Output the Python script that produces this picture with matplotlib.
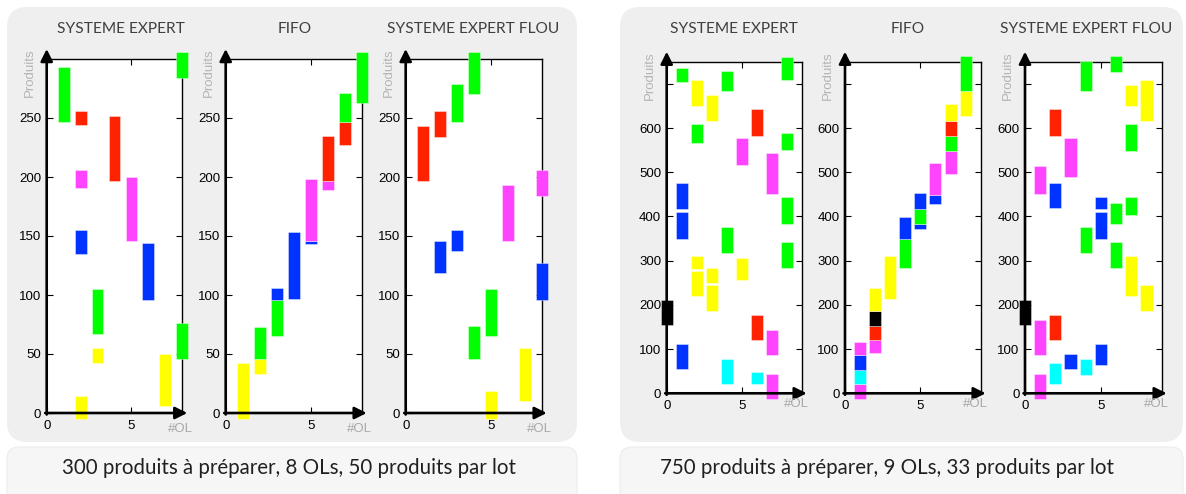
import matplotlib
matplotlib.use("Agg")
import matplotlib.pyplot as plt
from matplotlib.patches import FancyBboxPatch

# ---------------- data ----------------
G, R, P, B, Y, C, K = "#00ff00", "#ff2200", "#ff44ff", "#0033ff", "#ffff00", "#00ffff", "#000000"

# 300 produits, 8 OLs, 50 produits par lot
se300_ol  = [1, 2, 2, 2, 2, 3, 3, 4, 5, 6, 7, 8, 8]
se300_lo  = [247, 244, 191, 135, -5, 67, 42, 197, 146, 96, 6, 284, 46]
se300_hi  = [293, 256, 206, 155, 14, 105, 55, 252, 200, 144, 50, 306, 76]
se300_col = [G, R, P, B, Y, G, Y, R, P, B, Y, G, G]

fifo300_ol  = [1, 2, 2, 3, 3, 4, 5, 5, 6, 6, 7, 7, 8]
fifo300_lo  = [-5, 33, 46, 65, 96, 97, 143.5, 146, 189, 197, 227, 247, 263]
fifo300_hi  = [42, 46, 73, 96, 106, 153, 146, 198, 197, 235, 247, 271, 306]
fifo300_col = [Y, Y, G, G, B, B, B, P, P, R, R, G, G]

flou300_ol  = [1, 2, 2, 3, 3, 4, 4, 5, 5, 6, 7, 8, 8]
flou300_lo  = [197, 234, 119, 247, 137, 270, 46, 65, -5, 146, 10, 184, 96]
flou300_hi  = [243, 256, 146, 279, 155, 306, 74, 105, 19, 193, 55, 206, 127]
flou300_col = [R, R, B, G, B, G, G, G, Y, P, Y, P, B]

# 750 produits, 9 OLs, 33 produits par lot
se750_ol  = [0, 1, 1, 1, 1, 2, 2, 2, 2, 3, 3, 3, 4, 4, 4, 5, 5, 6, 6, 6, 7, 7, 7, 8, 8, 8, 8]
se750_lo  = [155, 704, 417, 350, 54, 649, 565, 281, 220, 616, 250, 186, 683, 317, 21, 516, 257,
             583, 121, 21, 450, 87, -13, 709, 550, 383, 284]
se750_hi  = [210, 736, 476, 410, 111, 709, 609, 310, 277, 675, 284, 244, 730, 377, 77, 577, 307,
             643, 177, 48, 543, 144, 44, 761, 588, 443, 343]
se750_col = [K, G, B, B, B, Y, G, Y, Y, Y, Y, Y, G, G, C, P, Y, R, R, C, P, P, P, G, G, G, G]

fifo750_ol  = [1, 1, 1, 1, 2, 2, 2, 2, 3, 4, 4, 5, 5, 5, 6, 6, 7, 7, 7, 7, 8, 8]
fifo750_lo  = [-13, 20, 53, 87, 91, 121, 153, 186, 214, 284, 349, 371, 383, 417, 429, 449,
               495, 549, 583, 615, 628, 683]
fifo750_hi  = [20, 53, 87, 117, 121, 153, 186, 238, 310, 349, 398, 383, 417, 453, 449, 522,
               549, 583, 615, 654, 683, 764]
fifo750_col = [P, C, B, P, P, R, K, Y, Y, G, B, B, G, B, B, P, P, G, R, Y, Y, G]

flou750_ol  = [0, 1, 1, 1, 2, 2, 2, 2, 3, 3, 4, 4, 4, 5, 5, 5, 6, 6, 6, 7, 7, 7, 7, 8, 8]
flou750_lo  = [155, 450, 87, -13, 583, 419, 121, 21, 489, 54, 683, 317, 42, 417, 350, 63,
               726, 383, 284, 649, 549, 404, 220, 616, 186]
flou750_hi  = [210, 513, 165, 44, 643, 476, 177, 68, 577, 89, 751, 377, 77, 443, 410, 111,
               764, 431, 343, 697, 609, 443, 310, 709, 244]
flou750_col = [K, P, P, P, R, B, R, C, P, B, G, G, C, B, B, B, G, G, G, Y, G, G, Y, Y, Y]

titles = ["SYSTEME EXPERT", "FIFO", "SYSTEME EXPERT FLOU"]
captions = ["300 produits à préparer, 8 OLs, 50 produits par lot",
            "750 produits à préparer, 9 OLs, 33 produits par lot"]
yticks300 = [0, 50, 100, 150, 200, 250]
yticks750 = [0, 100, 200, 300, 400, 500, 600, 700]
ylabels750 = ["0", "100", "200", "300", "400", "500", "600", ""]

# ---------------- figure ----------------
W, H = 1186, 494
fig = plt.figure(figsize=(W / 100, H / 100), dpi=100)
fig.patch.set_facecolor("white")

bg = fig.add_axes([0, 0, 1, 1], zorder=-5)
bg.set_xlim(0, W)
bg.set_ylim(H, 0)
bg.axis("off")
for x0, w in [(7, 570), (620, 563)]:
    bg.add_patch(FancyBboxPatch((x0, 7), w, 435, boxstyle="round,pad=0,rounding_size=20",
                                fc="#efefef", ec="none"))
    bg.add_patch(FancyBboxPatch((x0, 447), w, 70, boxstyle="round,pad=0,rounding_size=12",
                                fc="#f6f6f6", ec="#ececec", lw=0.8))

def px_axes(l, t, r, b):
    return fig.add_axes([l / W, 1 - b / H, (r - l) / W, (b - t) / H])

panels = [
    ((46.7, 59, 182.3, 413), se300_ol, se300_lo, se300_hi, se300_col, 300),
    ((225.7, 59, 361.7, 413), fifo300_ol, fifo300_lo, fifo300_hi, fifo300_col, 300),
    ((405.7, 59, 541.7, 413), flou300_ol, flou300_lo, flou300_hi, flou300_col, 300),
    ((666.7, 61.7, 801.7, 393.3), se750_ol, se750_lo, se750_hi, se750_col, 750),
    ((845, 61.7, 980.7, 393.3), fifo750_ol, fifo750_lo, fifo750_hi, fifo750_col, 750),
    ((1025, 61.7, 1161.7, 393.3), flou750_ol, flou750_lo, flou750_hi, flou750_col, 750),
]
title_x = [120.8, 294.5, 473, 733.7, 907.5, 1085.8]

for i, (rect, ol, lo, hi, col, total) in enumerate(panels):
    l, t, r, b = rect
    ax = px_axes(*rect)
    ax.set_facecolor("white")
    heights = [h - lo_ for h, lo_ in zip(hi, lo)]
    bw = 0.7 if total == 300 else 0.8
    bars = ax.bar(ol, heights, bottom=lo, width=bw, color=col,
                  edgecolor=(1, 1, 1, 0.45), linewidth=0.6, zorder=3)
    for bar in bars:
        bar.set_clip_on(False)
    if total == 300:
        ax.set_xlim(0, 8)
        ax.set_ylim(0, 300)
        ax.set_yticks(yticks300)
        ax.set_yticklabels([str(v) for v in yticks300])
    else:
        ax.set_xlim(0, 9)
        ax.set_ylim(0, 750)
        ax.set_yticks(yticks750)
        ax.set_yticklabels(ylabels750)
    ax.set_xticks([0, 5])
    ax.set_xticklabels(["0", "5"])
    ax.tick_params(direction="in", length=4, width=0.8, top=True, right=True,
                   labelsize=9.5, colors="black", pad=4)
    for lab in ax.get_xticklabels() + ax.get_yticklabels():
        lab.set_family("Liberation Sans")
    ax.tick_params(axis="x", pad=5)
    for s in ["top", "right"]:
        ax.spines[s].set_linewidth(1.0)
    for s in ["left", "bottom"]:
        ax.spines[s].set_visible(False)
    hpx = b - t
    wpx = r - l
    ap = dict(arrowstyle="-|>,head_length=0.6,head_width=0.3", color="black", lw=1.9,
              mutation_scale=12, shrinkA=0, shrinkB=0)
    ax.annotate("", xy=(0, 1 + 10 / hpx), xytext=(0, -1.5 / hpx), xycoords="axes fraction",
                arrowprops=ap, annotation_clip=False, zorder=6)
    ax.annotate("", xy=(1 + 5 / wpx, 0), xytext=(-1.5 / wpx, 0), xycoords="axes fraction",
                arrowprops=ap, annotation_clip=False, zorder=6)
    # axis labels
    fig.text((l - 17) / W, 1 - (t + 14) / H, "Produits", rotation=90, ha="center", va="center",
             color="#b4b4b4", fontsize=9.5, family="Liberation Sans")
    if total == 300:
        fig.text((r - 2) / W, 1 - (b + 16) / H, "#OL", ha="center", va="center",
                 color="#a8a8a8", fontsize=9.5, family="Liberation Sans")
    else:
        fig.text((r - 5) / W, 1 - (b + 11) / H, "#OL", ha="center", va="center",
                 color="#a8a8a8", fontsize=9.5, family="Liberation Sans")
    fig.text(title_x[i] / W, 1 - 29 / H, titles[i % 3], ha="center", va="center",
             color="#404040", fontsize=11.2, family="Lato")

fig.text(289 / W, 1 - 468 / H, captions[0], ha="center", va="center",
         color="#202020", fontsize=14.8, family="Lato")
fig.text(887 / W, 1 - 468 / H, captions[1], ha="center", va="center",
         color="#202020", fontsize=14.8, family="Lato")

fig.savefig("out.png", dpi=100, facecolor="white")
